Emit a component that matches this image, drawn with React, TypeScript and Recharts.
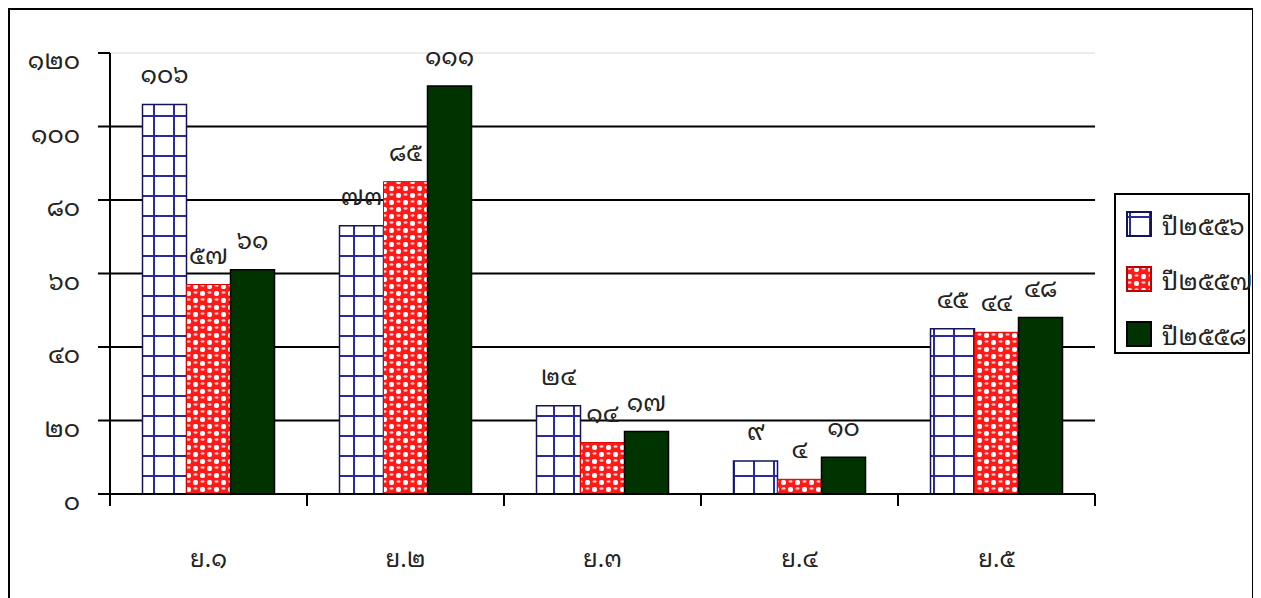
import { BarChart, Bar, XAxis, YAxis, CartesianGrid, LabelList } from "recharts";

const categories = ["ย.๑", "ย.๒", "ย.๓", "ย.๔", "ย.๕"];
const seriesNames = ["ปี๒๕๕๖", "ปี๒๕๕๗", "ปี๒๕๕๘"];
const y2556 = [106, 73, 24, 9, 45];
const y2557 = [57, 85, 14, 4, 44];
const y2558 = [61, 111, 17, 10, 48];
const yTicks = [0, 20, 40, 60, 80, 100, 120];

const thaiDigits = ["๐", "๑", "๒", "๓", "๔", "๕", "๖", "๗", "๘", "๙"];
const toThai = (v: number | string) =>
  String(v).replace(/[0-9]/g, (d) => thaiDigits[Number(d)]);

const data = categories.map((c, i) => ({
  name: c,
  s1: y2556[i],
  s2: y2557[i],
  s3: y2558[i],
}));

const FONT = "'Noto Sans Thai Looped', 'Noto Sans Thai', sans-serif";
const CHART_W = 1247;
const CHART_H = 578;
const MARGIN = { top: 43, right: 162, left: 0, bottom: 14 };
const Y_W = 100;
const HALF_BAND = (CHART_W - MARGIN.left - MARGIN.right - Y_W) / categories.length / 2;

const fills = ["url(#gridBlue)", "url(#redDots)", "#003300"];
const strokes = ["#14145a", "#e00000", "#000000"];

const XTick = (props: any) => {
  const { x, y, payload, index } = props;
  return (
    <g>
      {index === 0 && (
        <line x1={x - HALF_BAND} y1={y - 8} x2={x - HALF_BAND} y2={y + 4} stroke="#000" strokeWidth={2} />
      )}
      <line x1={x + HALF_BAND} y1={y - 8} x2={x + HALF_BAND} y2={y + 4} stroke="#000" strokeWidth={2} />
      <text x={x} y={y + 65} textAnchor="middle" fontSize={24} fontFamily={FONT} fill="#222">
        {payload.value}
      </text>
    </g>
  );
};

const YTick = (props: any) => {
  const { x, y, payload } = props;
  return (
    <text x={x - 16} y={y} dy={16} textAnchor="end" fontSize={25} fontFamily={FONT} fill="#222">
      {toThai(payload.value)}
    </text>
  );
};

const GridLine = (props: any) => {
  const { x1, x2, y1, y2, y } = props;
  const isTop = Math.abs(y1 - y) < 1;
  return (
    <line x1={x1} x2={x2} y1={y1} y2={y2} stroke={isTop ? "#d8d8d8" : "#000"} strokeWidth={isTop ? 1 : 2} />
  );
};

const LegendBox = () => (
  <div
    style={{
      position: "absolute",
      left: 1104,
      top: 183,
      width: 132,
      height: 157,
      border: "2px solid #000",
      background: "#fff",
    }}
  >
    {seriesNames.map((n, i) => (
      <div
        key={n}
        style={{
          position: "absolute",
          left: 10,
          top: 29 + 55 * i - 14,
          height: 28,
          display: "flex",
          alignItems: "center",
        }}
      >
        <svg width={26} height={26} style={{ marginRight: 10 }}>
          <rect x={1} y={1} width={24} height={24} fill={fills[i]} stroke={i === 1 ? "#c00000" : i === 0 ? "#14145a" : "#000"} strokeWidth={2} />
        </svg>
        <span style={{ fontFamily: FONT, fontSize: 25, color: "#222", lineHeight: "28px" }}>{n}</span>
      </div>
    ))}
  </div>
);

export default function App() {
  return (
    <div
      style={{
        width: 1242,
        height: 590,
        borderTop: "2px solid #000",
        borderLeft: "2px solid #000",
        borderRight: "2px solid #000",
        position: "relative",
        background: "#fff",
        overflow: "hidden",
      }}
    >
      <style>{"html, body { overflow: hidden; }"}</style>
      <svg width={0} height={0} style={{ position: "absolute" }}>
        <defs>
          <pattern id="gridBlue" width={20} height={20} patternUnits="userSpaceOnUse" x={3} y={5}>
            <rect width={20} height={20} fill="#fff" />
            <line x1={0} y1={1} x2={20} y2={1} stroke="#2a2a9c" strokeWidth={2} />
            <line x1={1} y1={0} x2={1} y2={20} stroke="#2a2a9c" strokeWidth={2} />
          </pattern>
          <pattern id="redDots" width={14} height={14} patternUnits="userSpaceOnUse">
            <rect width={14} height={14} fill="#ff1a1a" />
            <rect x={1} y={8} width={5} height={5} rx={2} fill="#fff" />
            <rect x={8} y={1} width={5} height={5} rx={2} fill="#fff" />
            <ellipse cx={3.5} cy={2.5} rx={2} ry={1.2} fill="#ffc8c8" />
            <ellipse cx={10.5} cy={9.5} rx={2} ry={1.2} fill="#ffc8c8" />
          </pattern>
        </defs>
      </svg>
      <BarChart width={CHART_W} height={CHART_H} data={data} margin={MARGIN} barCategoryGap="16.5%" barGap={0}>
        <CartesianGrid vertical={false} horizontal={GridLine} />
        <XAxis
          dataKey="name"
          axisLine={{ stroke: "#000", strokeWidth: 2 }}
          tickLine={false}
          tick={XTick}
          height={80}
          interval={0}
        />
        <YAxis
          width={Y_W}
          domain={[0, 120]}
          ticks={yTicks}
          interval={0}
          axisLine={{ stroke: "#000", strokeWidth: 2 }}
          tickLine={{ stroke: "#000", strokeWidth: 2 }}
          tickSize={12}
          tick={YTick}
        />
        {["s1", "s2", "s3"].map((k, i) => (
          <Bar
            key={k}
            dataKey={k}
            name={seriesNames[i]}
            fill={fills[i]}
            stroke={strokes[i]}
            strokeWidth={i === 1 ? 1 : 1.5}
            isAnimationActive={false}
          >
            <LabelList
              dataKey={k}
              position="top"
              offset={21}
              formatter={(v: any) => toThai(v)}
              style={{ fontFamily: FONT, fontSize: 25, fill: "#222" }}
            />
          </Bar>
        ))}
      </BarChart>
      <LegendBox />
    </div>
  );
}
